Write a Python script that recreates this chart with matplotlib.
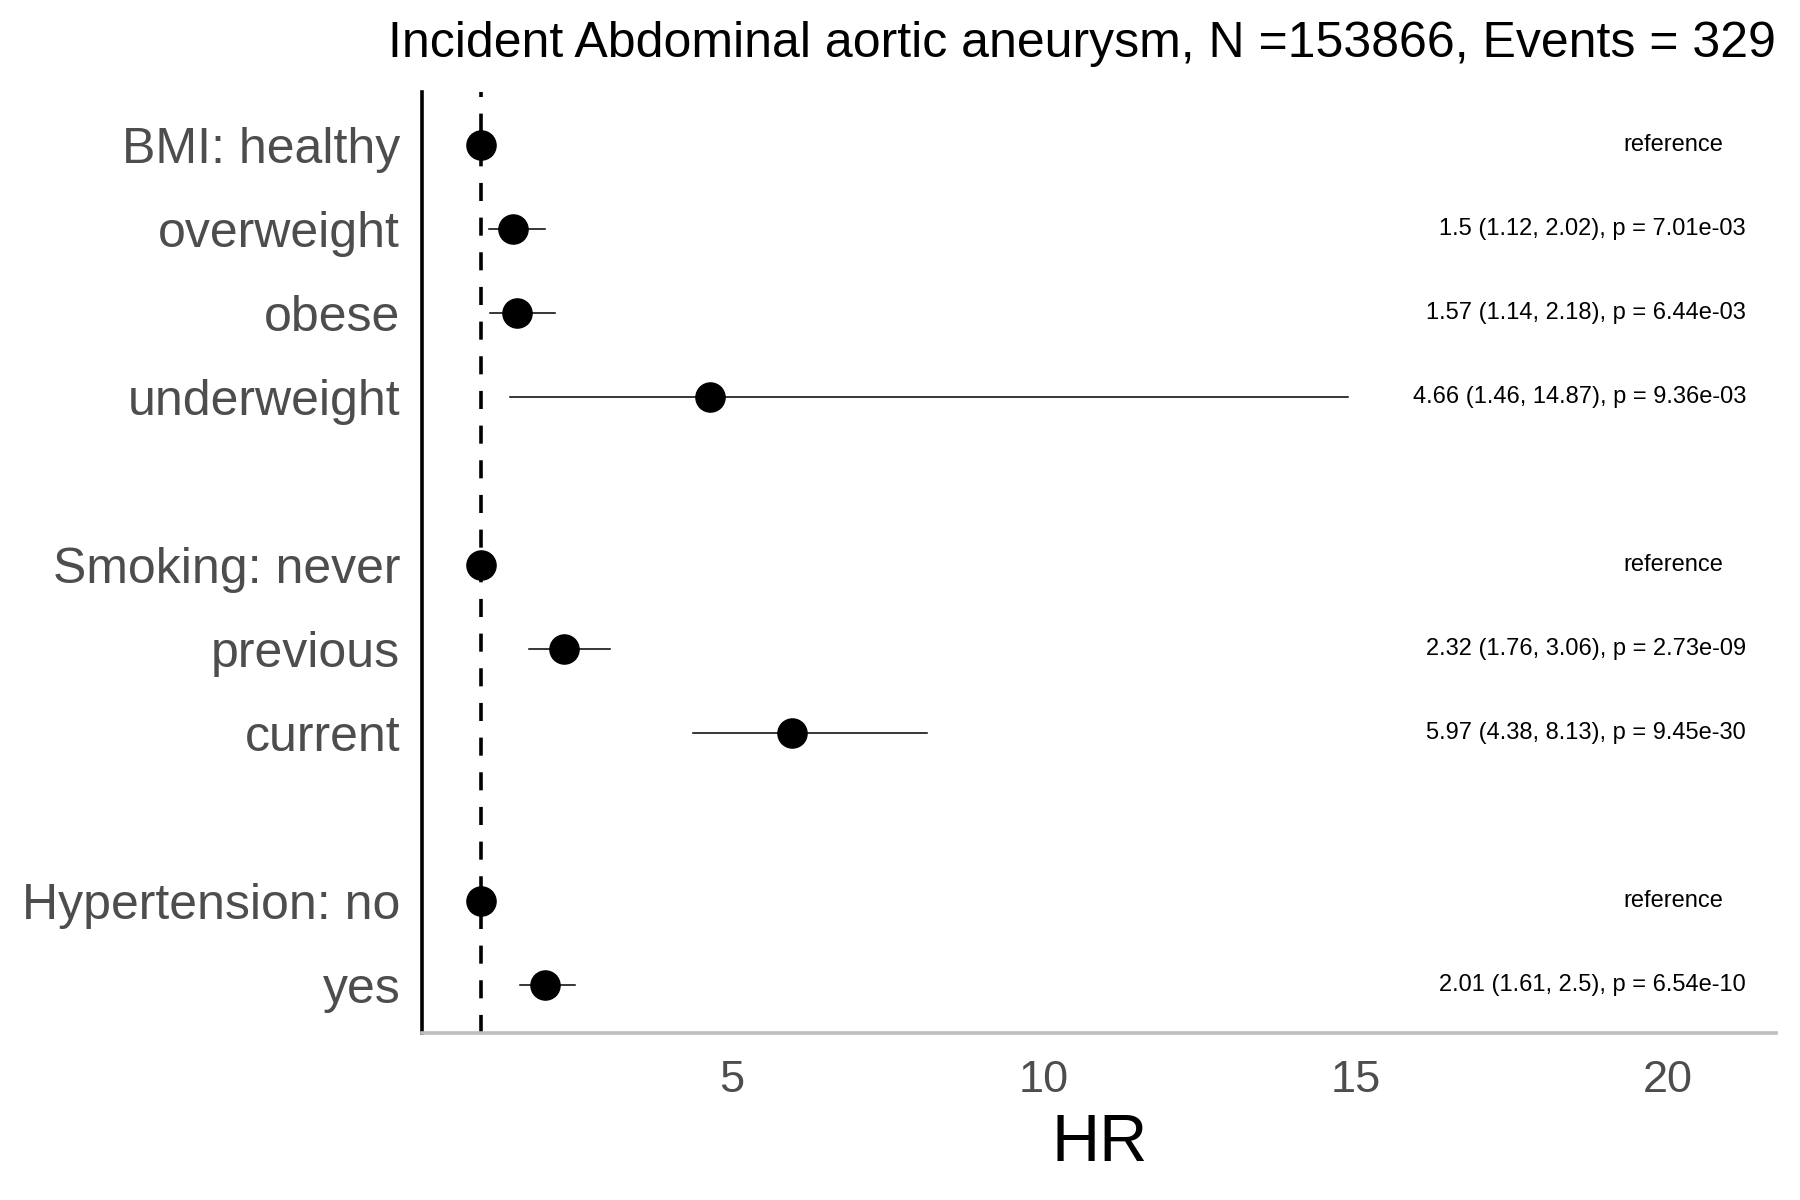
import numpy as np
import matplotlib
matplotlib.use("Agg")
from matplotlib import pyplot as plt

plt.rcParams['font.family'] = ['Liberation Sans', 'DejaVu Sans']

# rows from top to bottom, None = gap between groups
labels = ["BMI: healthy", "overweight", "obese", "underweight", None,
          "Smoking: never", "previous", "current", None,
          "Hypertension: no", "yes"]
hr = [1, 1.5, 1.57, 4.66, None, 1, 2.32, 5.97, None, 1, 2.01]
lo = [1, 1.12, 1.14, 1.46, None, 1, 1.76, 4.38, None, 1, 1.61]
hi = [1, 2.02, 2.18, 14.87, None, 1, 3.06, 8.13, None, 1, 2.5]
notes = ["reference", "1.5 (1.12, 2.02), p = 7.01e-03",
         "1.57 (1.14, 2.18), p = 6.44e-03", "4.66 (1.46, 14.87), p = 9.36e-03", None,
         "reference", "2.32 (1.76, 3.06), p = 2.73e-09",
         "5.97 (4.38, 8.13), p = 9.45e-30", None,
         "reference", "2.01 (1.61, 2.5), p = 6.54e-10"]
title = "Incident Abdominal aortic aneurysm, N =153866, Events = 329"
xticks = [5, 10, 15, 20]

fig = plt.figure(figsize=(18, 12), dpi=100)
ax = fig.add_axes([0.2347, 0.1388, 0.7519, 0.7842])

ax.axvline(1, color="black", lw=2.6, dashes=(5, 4.6), zorder=1)

ypos = []
for i, lab in enumerate(labels):
    if lab is None:
        continue
    ypos.append(i)
    ax.plot([lo[i], hi[i]], [i, i], color="black", lw=1.1, zorder=2)
    ax.plot(hr[i], i, "o", color="black", ms=21, zorder=3)
    if notes[i] == "reference":
        ax.text(20.09, i, notes[i], ha="center", va="center", fontsize=17)
    else:
        ax.text(21.25, i, notes[i], ha="right", va="center", fontsize=17)

ax.set_yticks(ypos)
ax.set_yticklabels([l for l in labels if l is not None])
ax.set_ylim(10.573, -0.627)
ax.set_xlim(0.055, 21.73)
ax.set_xticks(xticks)

for s in ["top", "right"]:
    ax.spines[s].set_visible(False)
ax.spines["left"].set_linewidth(2.6)
ax.spines["left"].set_color("black")
ax.spines["bottom"].set_linewidth(2.6)
ax.spines["bottom"].set_color("#BEBEBE")

ax.tick_params(axis="y", length=0, pad=16, labelsize=36, labelcolor="#4D4D4D")
ax.tick_params(axis="x", length=0, pad=19, labelsize=32.5, labelcolor="#4D4D4D")
ax.set_xlabel("HR", fontsize=48, labelpad=9)

fig.text(0.9866, 0.9636, title, ha="right", va="center", fontsize=36)

fig.savefig("out.png", dpi=100)
